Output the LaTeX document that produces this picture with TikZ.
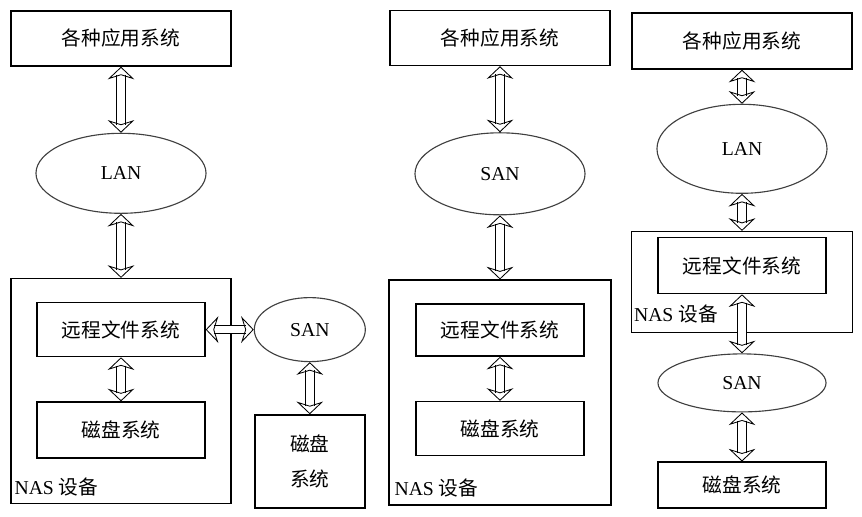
\documentclass[tikz,border=0pt]{standalone}
\usepackage{fontspec}
\setmainfont{Liberation Serif}
\newfontfamily\cjk{Noto Sans CJK SC}
\usetikzlibrary{shapes.geometric, arrows.meta, positioning}

\begin{document}
\begin{tikzpicture}[x=0.025cm, y=-0.025cm,
	sysbox/.style={rectangle, draw, line width=1pt, minimum width=5.5cm,
		minimum height=1.375cm, align=center, inner sep=0pt,
		font=\fontsize{14}{17}\selectfont\cjk},
	inbox/.style={sysbox, minimum width=4.2cm, minimum height=1.35cm},
	nasbox/.style={rectangle, draw, line width=1pt, minimum width=5.5cm,
		minimum height=5.625cm},
	net/.style={ellipse, draw=black!75, line width=0.8pt, minimum width=4.25cm,
		minimum height=2cm, inner sep=0pt, font=\fontsize{14}{17}\selectfont},
	lbl/.style={font=\fontsize{14}{17}\selectfont, inner sep=0pt},
	darr/.style={double, double distance=5.5pt, line width=0.6pt, <->,
		>={Stealth[open, length=9pt, width=19pt, inset=3pt, line width=0.6pt]}},
	]
	\useasboundingbox (0,0) rectangle (862,516);
	
	% NAS with SAN behind it
	\node[sysbox] (app1) at (121,38.5) {各种应用系统};
	\node[net, below=1.65cm of app1] (lan1) {LAN};
	\node[nasbox, below=1.6cm of lan1] (nas1) {};
	\node[inbox, below=0.6cm of nas1.north] (rfs1) {远程文件系统};
	\node[inbox, minimum height=1.4cm, below=1.1cm of rfs1] (disk1) {磁盘系统};
	\node[lbl, above right=0.2cm and 0.1cm of nas1.south west] (nl1) {NAS {\cjk 设备}};
	\node[net, minimum width=2.775cm, minimum height=1.6cm, right=1.2cm of rfs1] (san1) {SAN};
	\node[sysbox, minimum width=2.75cm, minimum height=2.325cm, below=1.3cm of san1]
	(disk1b) {磁盘\\[8pt]系统};
	
	\draw[darr] (app1) -- (lan1);
	\draw[darr] (lan1) -- (nas1);
	\draw[darr] (rfs1) -- (disk1);
	\draw[darr] (rfs1) -- (san1);
	\draw[darr] (san1) -- (disk1b);
	
	% NAS on SAN
	\node[sysbox] (app2) at (500,38) {各种应用系统};
	\node[net, minimum height=2.05cm, below=1.65cm of app2] (san2) {SAN};
	\node[nasbox, minimum width=5.55cm, below=1.6cm of san2] (nas2) {};
	\node[inbox, minimum height=1.3cm, below=0.6cm of nas2.north] (rfs2) {远程文件系统};
	\node[inbox, below=1.1cm of rfs2] (disk2) {磁盘系统};
	\node[lbl, above right=0.2cm and 0.15cm of nas2.south west] (nl2) {NAS {\cjk 设备}};
	
	\draw[darr] (app2) -- (san2);
	\draw[darr] (san2) -- (nas2);
	\draw[darr] (rfs2) -- (disk2);
	
	% NAS gateway
	\node[sysbox, minimum height=1.4cm] (app3) at (742,41) {各种应用系统};
	\node[net, minimum height=2.225cm, below=0.85cm of app3] (lan3) {LAN};
	\node[nasbox, minimum width=5.525cm, minimum height=2.525cm, below=0.925cm of lan3] (nas3) {};
	\node[inbox, minimum height=1.4cm, below=0.15cm of nas3.north] (rfs3) {远程文件系统};
	\node[lbl, above right=0.25cm and 0.075cm of nas3.south west] (nl3) {NAS {\cjk 设备}};
	\node[net, minimum width=4.2cm, minimum height=1.45cm, below=1.475cm of rfs3] (san3) {SAN};
	\node[inbox, minimum height=1.15cm, below=1.225cm of san3] (disk3) {磁盘系统};
	
	\draw[darr] (app3) -- (lan3);
	\draw[darr] (lan3) -- (nas3);
	\draw[darr] (rfs3) -- (san3);
	\draw[darr] (san3) -- (disk3);
\end{tikzpicture}
\end{document}
